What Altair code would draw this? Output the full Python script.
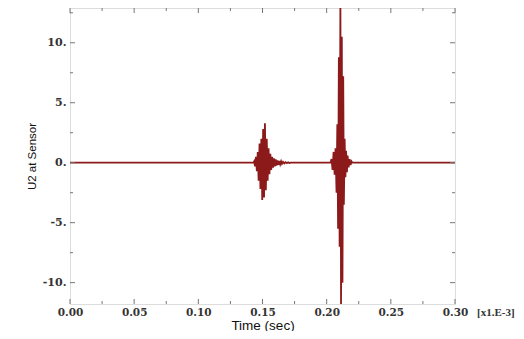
import altair as alt
import pandas as pd

# Time axis in units of 1e-3 s, displacement U2 at sensor
t_vals = [0.000, 0.1430,
          0.1435, 0.1442, 0.1449, 0.1456, 0.1463, 0.1470, 0.1477, 0.1484, 0.1491, 0.1498,
          0.1505, 0.1512, 0.1519, 0.1526, 0.1533, 0.1540, 0.1547, 0.1554, 0.1561, 0.1568,
          0.1575, 0.1582, 0.1589, 0.1596, 0.1603, 0.1610, 0.1617, 0.1624, 0.1631, 0.1638,
          0.1645, 0.1652, 0.1660, 0.1670, 0.1680, 0.1690, 0.1700, 0.1710, 0.1720,
          0.2030,
          0.2038, 0.2046, 0.2054, 0.2062, 0.2069, 0.2077, 0.2083, 0.2089, 0.2095, 0.2101,
          0.2107, 0.2112, 0.2118, 0.2123, 0.2129, 0.2134, 0.2140, 0.2146, 0.2151, 0.2158,
          0.2163, 0.2171, 0.2179, 0.2186, 0.2194,
          0.2200, 0.3000]
u_vals = [0.0, 0.0,
          0.1, -0.3, 0.5, -0.7, 0.9, -1.5, 1.6, -2.2, 2.0, -3.1,
          2.8, -2.9, 3.3, -2.3, 2.0, -1.5, 1.2, -0.95, 0.75, -0.6,
          0.5, -0.42, 0.36, -0.3, 0.27, -0.23, 0.2, -0.17, 0.15, -0.13,
          0.11, -0.09, 0.07, -0.06, 0.05, -0.04, 0.03, -0.02, 0.0,
          0.0,
          0.3, -0.6, 0.9, -1.0, 1.2, -2.5, 3.2, -5.5, 8.8, -7.0,
          13.5, -11.9, 10.5, -10.0, 7.2, -3.5, 2.0, -1.2, 1.0, -0.8,
          0.6, -0.4, 0.3, -0.2, 0.1,
          0.0, 0.0]

x_major = [0.00, 0.05, 0.10, 0.15, 0.20, 0.25, 0.30]
x_minor = [0.025, 0.075, 0.125, 0.175, 0.225, 0.275]
y_major = [-10, -5, 0, 5, 10]
y_minor = [-7.5, -2.5, 2.5, 7.5, 12.5]

W, H = 385, 296
XDOM = [0, 0.30]
YDOM = [-11.78, 12.9]

df = pd.DataFrame({"t": t_vals, "u": u_vals})
xs = alt.Scale(domain=XDOM, nice=False, zero=False)
ys = alt.Scale(domain=YDOM, nice=False, zero=False)

label_font = "DejaVu Serif"

line = alt.Chart(df).mark_line(color="#8c1a1a", strokeWidth=1.8, clip=True).encode(
    x=alt.X("t:Q", scale=xs, axis=alt.Axis(
        values=x_major, format=".2f", ticks=False, domain=False, grid=False,
        labelFont=label_font, labelFontWeight="bold", labelFontSize=10.5, labelColor="#333333",
        labelPadding=3, labelFlush=False, labelOverlap=False,
        title="Time (sec)", titleFont="Liberation Sans", titleFontSize=13.5,
        titleFontWeight="normal", titleColor="#111111", titleY=21, titleBaseline="middle")),
    y=alt.Y("u:Q", scale=ys, axis=alt.Axis(
        values=y_major, labelExpr="datum.value + '.'", ticks=False, domain=False, grid=False,
        labelFont=label_font, labelFontWeight="bold", labelFontSize=11, labelColor="#333333",
        labelPadding=4, labelFlush=False, labelOverlap=False,
        title="U2 at Sensor", titleFont="Liberation Sans", titleFontSize=11.5,
        titleFontWeight="normal", titleColor="#111111", titleX=-38, titleY=H / 2,
        titleAlign="center", titleBaseline="middle")),
)

tick_color = "#777777"

def xticks(vals, length):
    d = pd.DataFrame({"t": vals})
    b = alt.Chart(d).mark_rule(color=tick_color, strokeWidth=1).encode(
        x=alt.X("t:Q", scale=xs), y=alt.value(H), y2=alt.value(H - length))
    tp = alt.Chart(d).mark_rule(color=tick_color, strokeWidth=1).encode(
        x=alt.X("t:Q", scale=xs), y=alt.value(0), y2=alt.value(length))
    return [b, tp]

def yticks(vals, length):
    d = pd.DataFrame({"u": vals})
    l = alt.Chart(d).mark_rule(color=tick_color, strokeWidth=1).encode(
        y=alt.Y("u:Q", scale=ys), x=alt.value(0), x2=alt.value(length))
    r = alt.Chart(d).mark_rule(color=tick_color, strokeWidth=1).encode(
        y=alt.Y("u:Q", scale=ys), x=alt.value(W), x2=alt.value(W - length))
    return [l, r]

unit_text = alt.Chart(pd.DataFrame({"s": ["[x1.E-3]"]})).mark_text(
    align="left", baseline="middle", font="Liberation Serif", fontWeight="bold", fontSize=11,
    color="#333333").encode(text="s:N", x=alt.value(W + 22), y=alt.value(H + 9))

layers = [line] + xticks(x_major, 5) + xticks(x_minor, 3) + yticks(y_major, 5) + yticks(y_minor, 3) + [unit_text]

chart = alt.layer(*layers).properties(
    width=W, height=H,
    autosize=alt.AutoSizeParams(type="none"),
    padding={"left": 62, "top": 0, "right": 61, "bottom": 27},
).configure_view(stroke="#888888", strokeWidth=1.2).configure(background="white")

chart.save("out.html", embed_options={"renderer": "svg", "actions": False})
